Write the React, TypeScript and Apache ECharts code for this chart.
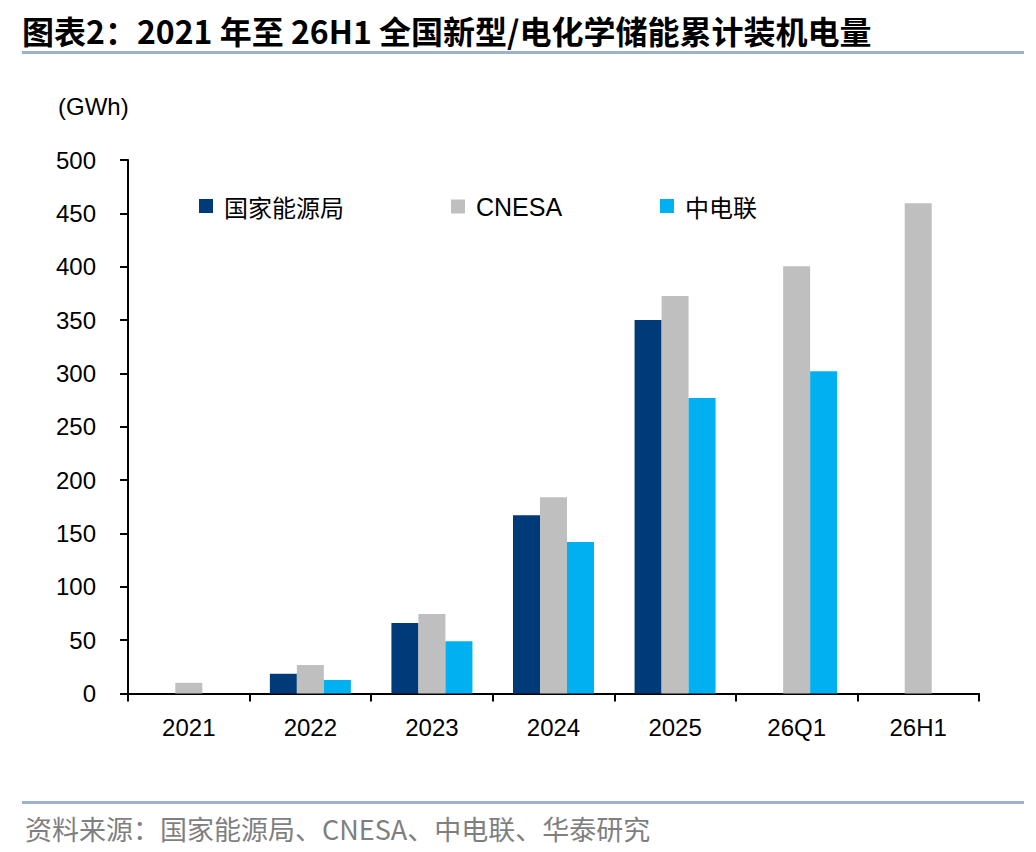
import React, { useEffect, useRef } from "react";
import * as echarts from "echarts";

const categories = ["2021", "2022", "2023", "2024", "2025", "26Q1", "26H1"];
const nea = [null, 18.5, 66, 167, 350, null, null];
const cnesa = [10, 26.7, 74.5, 184, 372.5, 400.5, 459.5];
const cec = [null, 12.7, 49, 142, 277, 302, null];
const yTicks = { min: 0, max: 500, interval: 50 };

const FONT_LATIN = "Liberation Sans, Arial, sans-serif";
const FONT_CJK = "Noto Sans CJK SC, sans-serif";

export default function App() {
  const ref = useRef<HTMLDivElement>(null);
  useEffect(() => {
    document.body.style.margin = "0";
    const chart = echarts.init(ref.current!, null, { renderer: "svg" });
    const legendBase = (name: string, left: number) => ({
      data: [name],
      left,
      top: 194,
      padding: 0,
      icon: "rect",
      itemWidth: 14,
      itemHeight: 14,
      selectedMode: false,
      textStyle: {
        fontSize: name === "CNESA" ? 25 : 24,
        fontFamily: name === "CNESA" ? FONT_LATIN : FONT_CJK,
        color: "#000",
        lineHeight: 24,
        padding: [0, 0, 0, 6],
      },
    });
    chart.setOption({
      animation: false,
      backgroundColor: "#fff",
      grid: { left: 128, right: 57, top: 160, bottom: 158.5, containLabel: false },
      legend: [
        legendBase("国家能源局", 199),
        legendBase("CNESA", 451),
        legendBase("中电联", 660),
      ],
      xAxis: {
        type: "category",
        data: categories,
        boundaryGap: true,
        axisLine: { show: true, lineStyle: { color: "#000", width: 2 } },
        axisTick: { show: true, length: 8, lineStyle: { color: "#000", width: 2 } },
        axisLabel: { fontSize: 24, fontFamily: FONT_LATIN, color: "#000", margin: 22 },
        splitLine: { show: false },
      },
      yAxis: {
        type: "value",
        min: yTicks.min,
        max: yTicks.max,
        interval: yTicks.interval,
        axisLine: { show: true, lineStyle: { color: "#000", width: 2 } },
        axisTick: { show: true, length: 8, lineStyle: { color: "#000", width: 2 } },
        axisLabel: { fontSize: 24, fontFamily: FONT_LATIN, color: "#000", margin: 32 },
        splitLine: { show: false },
      },
      series: [
        { name: "国家能源局", type: "bar", data: nea, itemStyle: { color: "#003A78" }, barWidth: 27, barGap: "0%" },
        { name: "CNESA", type: "bar", data: cnesa, itemStyle: { color: "#BFBFBF" }, barWidth: 27, barGap: "0%" },
        { name: "中电联", type: "bar", data: cec, itemStyle: { color: "#00B0F0" }, barWidth: 27, barGap: "0%" },
      ],
      graphic: [
        {
          type: "text",
          left: 22,
          top: 14,
          style: {
            text: "图表2：2021 年至 26H1 全国新型/电化学储能累计装机电量",
            fontSize: 32,
            fontWeight: "bold",
            fontFamily: FONT_CJK,
            fill: "#000",
          },
        },
        {
          type: "rect",
          shape: { x: 22, y: 51, width: 1002, height: 3 },
          style: { fill: "#9BB1CC" },
        },
        {
          type: "text",
          left: 58,
          top: 94,
          style: { text: "(GWh)", fontSize: 24, fontFamily: FONT_LATIN, fill: "#000" },
        },
        {
          type: "rect",
          shape: { x: 22, y: 801, width: 1002, height: 3 },
          style: { fill: "#9BB1CC" },
        },
        {
          type: "text",
          left: 25,
          top: 815,
          style: {
            text: "资料来源：国家能源局、CNESA、中电联、华泰研究",
            fontSize: 27,
            fontFamily: FONT_CJK,
            fill: "#7F7F7F",
          },
        },
      ],
    });
    return () => chart.dispose();
  }, []);
  return <div ref={ref} style={{ width: 1036, height: 852 }} />;
}
